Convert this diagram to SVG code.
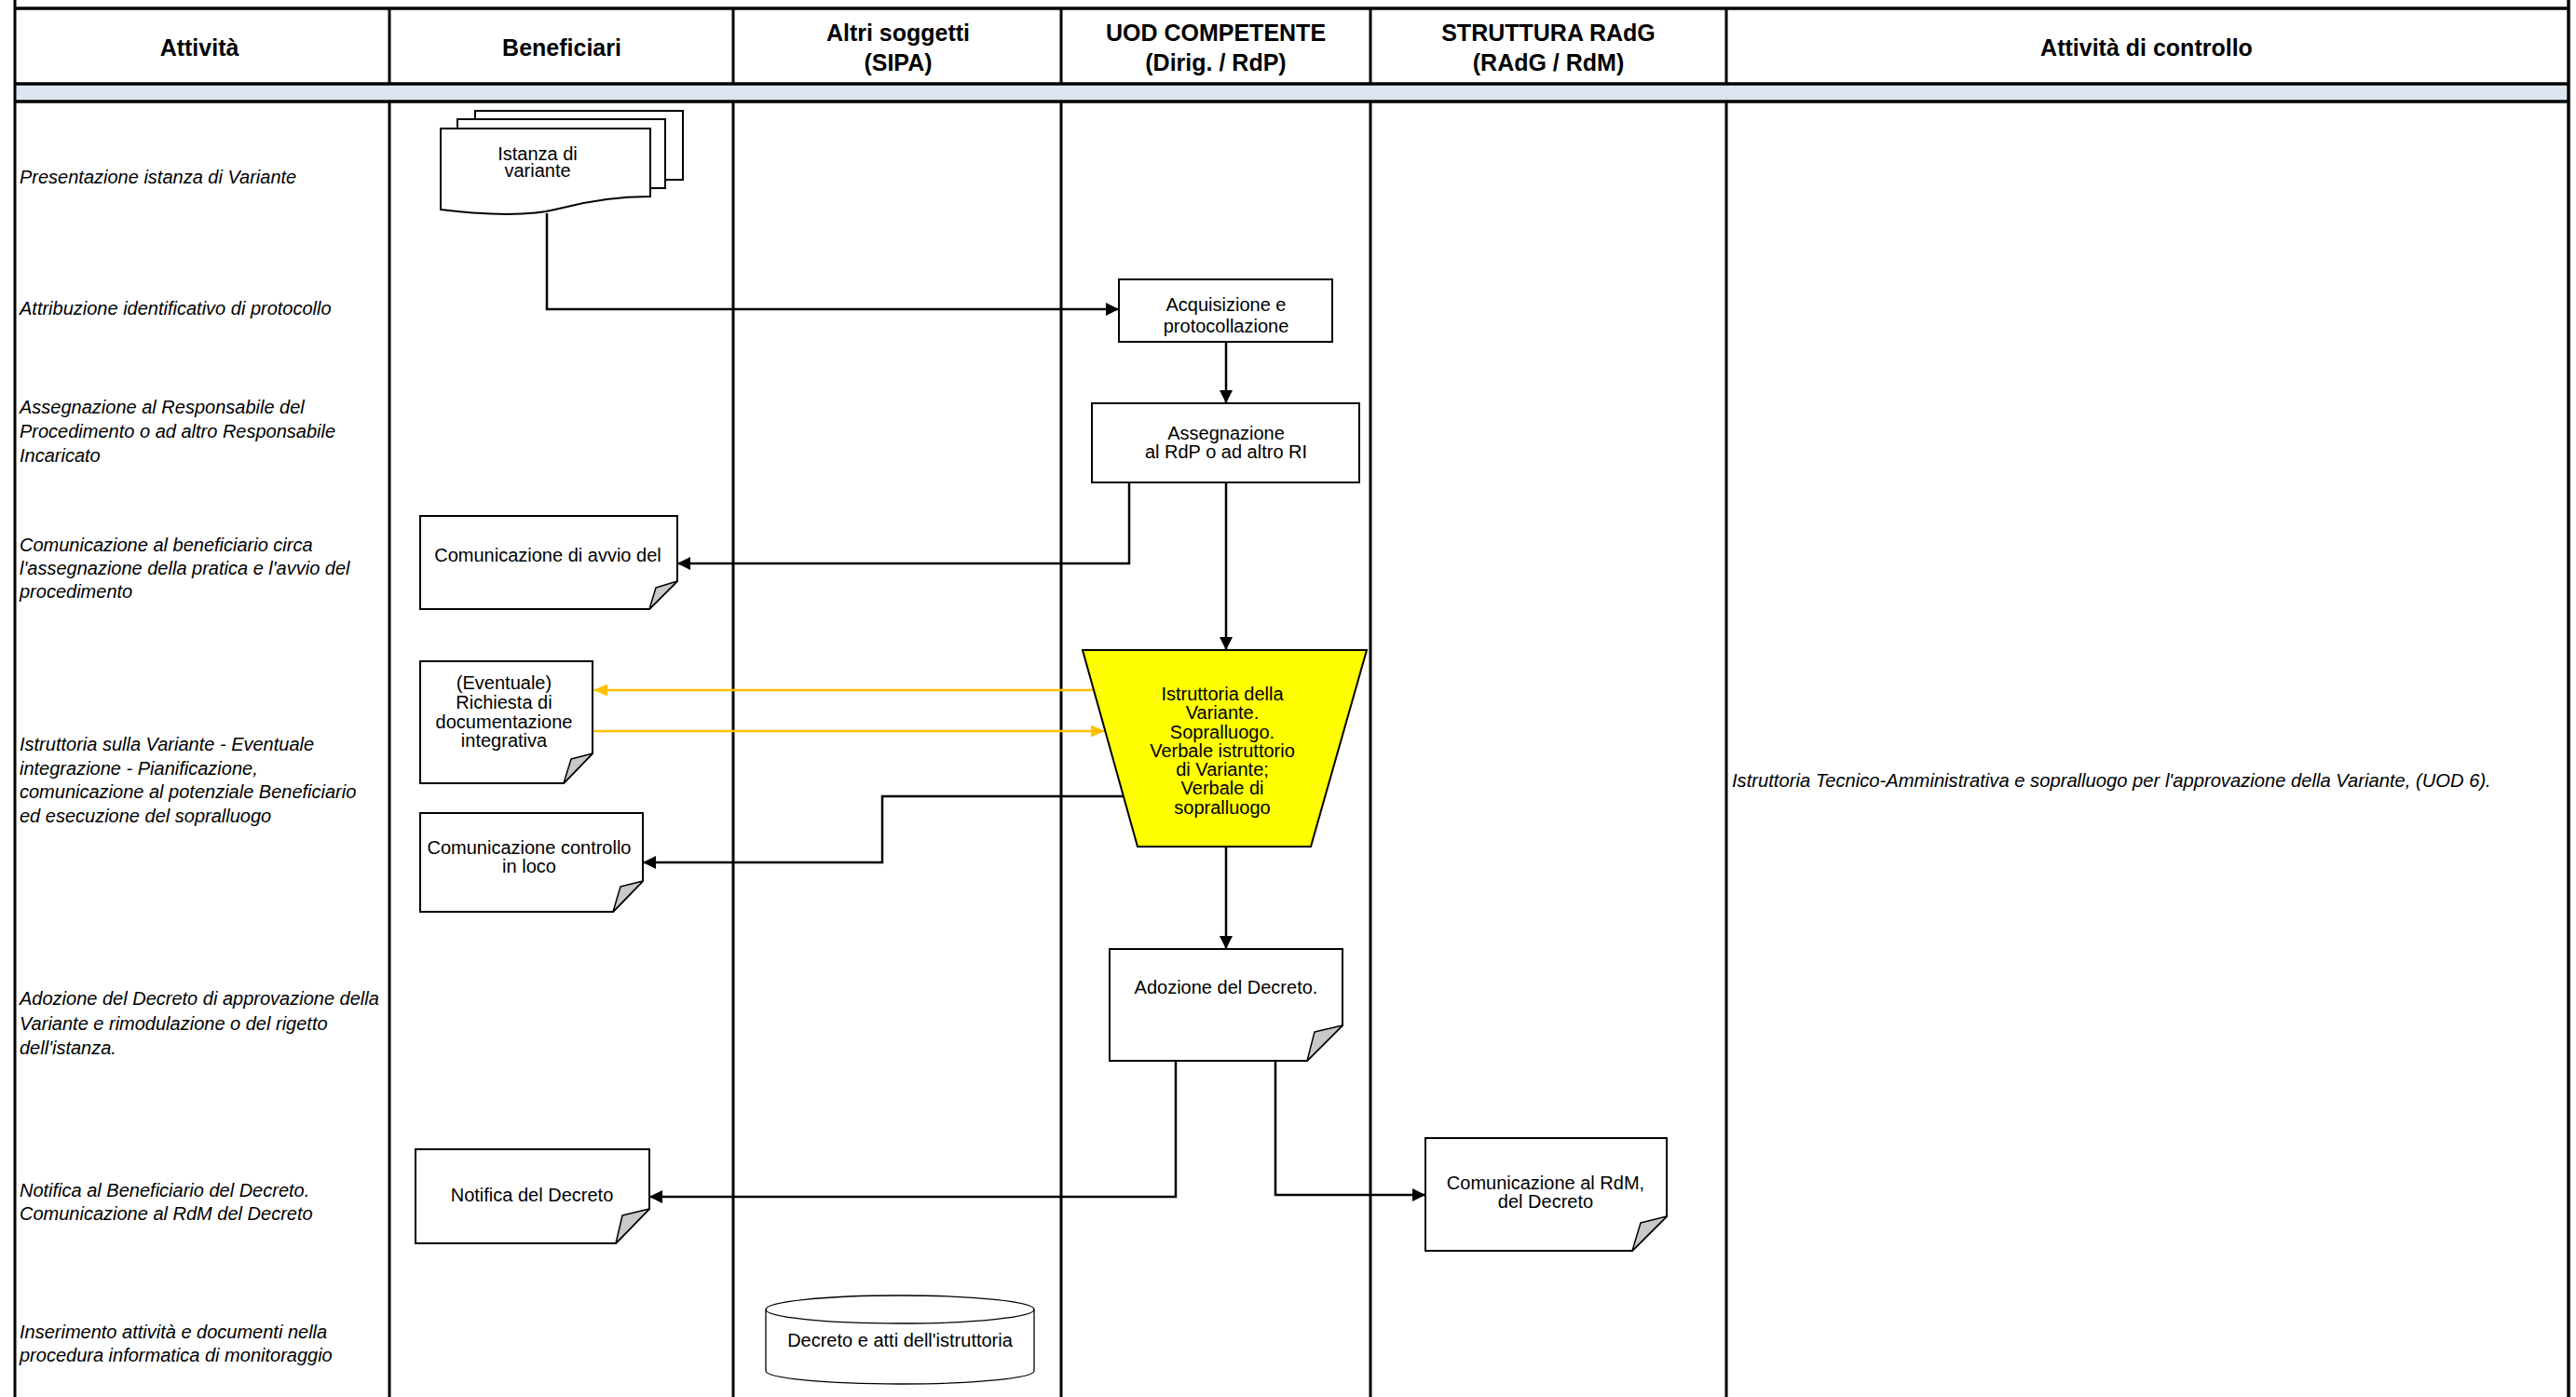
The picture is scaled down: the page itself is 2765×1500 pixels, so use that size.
<svg xmlns="http://www.w3.org/2000/svg" width="2765" height="1500" viewBox="0 0 2765 1500">
<style>
.bd{stroke:#000;stroke-width:3.5;fill:none}
.ln{stroke:#000;stroke-width:3;fill:none}
.hdr{font-family:"Liberation Sans",Arial,sans-serif;font-weight:bold;font-size:25px;text-anchor:middle;fill:#000}
.act{font-family:"Liberation Sans",Arial,sans-serif;font-style:italic;font-size:20px;fill:#000}
.nt{font-family:"Liberation Sans",Arial,sans-serif;font-size:20px;text-anchor:middle;fill:#000}
.sh{fill:#fff;stroke:#000;stroke-width:2}
.fold{fill:#c8c8c8;stroke:#000;stroke-width:1.5;stroke-linejoin:round}
.cn{fill:none;stroke:#000;stroke-width:2.5}
.co{fill:none;stroke:#ffc000;stroke-width:2.5}
</style>
<defs>
<marker id="ab" viewBox="0 0 14 14" refX="14" refY="7" markerWidth="14" markerHeight="14" markerUnits="userSpaceOnUse" orient="auto"><path d="M0,0 L14,7 L0,14 Z" fill="#000"/></marker>
<marker id="ao" viewBox="0 0 15 13" refX="15" refY="6.5" markerWidth="15" markerHeight="13" markerUnits="userSpaceOnUse" orient="auto"><path d="M0,0 L15,6.5 L0,13 Z" fill="#ffc000"/></marker>
</defs>
<rect width="2765" height="1500" fill="#fff"/>
<g id="table">
<rect x="16" y="90" width="2741" height="19" fill="#dce6f1"/>
<line class="bd" x1="16" y1="9" x2="2757" y2="9"/>
<line class="bd" x1="16" y1="90" x2="2757" y2="90"/>
<line class="bd" x1="16" y1="109" x2="2757" y2="109"/>
<line class="ln" x1="16" y1="0" x2="16" y2="1500"/>
<line class="bd" x1="2757" y1="0" x2="2757" y2="1500"/>
<line class="ln" x1="418" y1="9" x2="418" y2="90"/><line class="ln" x1="418" y1="109" x2="418" y2="1500"/>
<line class="ln" x1="787" y1="9" x2="787" y2="90"/><line class="ln" x1="787" y1="109" x2="787" y2="1500"/>
<line class="ln" x1="1139" y1="9" x2="1139" y2="90"/><line class="ln" x1="1139" y1="109" x2="1139" y2="1500"/>
<line class="ln" x1="1471" y1="9" x2="1471" y2="90"/><line class="ln" x1="1471" y1="109" x2="1471" y2="1500"/>
<line class="ln" x1="1853" y1="9" x2="1853" y2="90"/><line class="ln" x1="1853" y1="109" x2="1853" y2="1500"/>
<text class="hdr" x="214" y="60">Attività</text>
<text class="hdr" x="603" y="60">Beneficiari</text>
<text class="hdr" x="964" y="44">Altri soggetti</text>
<text class="hdr" x="964" y="76">(SIPA)</text>
<text class="hdr" x="1305" y="44">UOD COMPETENTE</text>
<text class="hdr" x="1305" y="76">(Dirig. / RdP)</text>
<text class="hdr" x="1662" y="44">STRUTTURA RAdG</text>
<text class="hdr" x="1662" y="76">(RAdG / RdM)</text>
<text class="hdr" x="2304" y="60">Attività di controllo</text>
</g>
<g id="activities">
<text class="act" x="21" y="197">Presentazione istanza di Variante</text>
<text class="act" x="21" y="338">Attribuzione identificativo di protocollo</text>
<text class="act" x="21" y="444">Assegnazione al Responsabile del</text>
<text class="act" x="21" y="470">Procedimento o ad altro Responsabile</text>
<text class="act" x="21" y="496">Incaricato</text>
<text class="act" x="21" y="592">Comunicazione al beneficiario circa</text>
<text class="act" x="21" y="617">l'assegnazione della pratica e l'avvio del</text>
<text class="act" x="21" y="642">procedimento</text>
<text class="act" x="21" y="806">Istruttoria sulla Variante - Eventuale</text>
<text class="act" x="21" y="832">integrazione - Pianificazione,</text>
<text class="act" x="21" y="857">comunicazione al potenziale Beneficiario</text>
<text class="act" x="21" y="883">ed esecuzione del sopralluogo</text>
<text class="act" x="21" y="1079">Adozione del Decreto di approvazione della</text>
<text class="act" x="21" y="1106">Variante e rimodulazione o del rigetto</text>
<text class="act" x="21" y="1132">dell'istanza.</text>
<text class="act" x="21" y="1285">Notifica al Beneficiario del Decreto.</text>
<text class="act" x="21" y="1310">Comunicazione al RdM del Decreto</text>
<text class="act" x="21" y="1437">Inserimento attività e documenti nella</text>
<text class="act" x="21" y="1462">procedura informatica di monitoraggio</text>
<text class="act" x="1859" y="845" style="font-size:20.2px">Istruttoria Tecnico-Amministrativa e sopralluogo per l'approvazione della Variante, (UOD 6).</text>
</g>
<g id="connectors">
<path class="cn" d="M587,229 V332 H1201" marker-end="url(#ab)"/>
<path class="cn" d="M1316,367 V433" marker-end="url(#ab)"/>
<path class="cn" d="M1212,518 V605 H727" marker-end="url(#ab)"/>
<path class="cn" d="M1316,518 V698" marker-end="url(#ab)"/>
<path class="co" d="M1173,741 H637" marker-end="url(#ao)"/>
<path class="co" d="M637,785 H1186" marker-end="url(#ao)"/>
<path class="cn" d="M1205,855 H947 V926 H690" marker-end="url(#ab)"/>
<path class="cn" d="M1316,909 V1019" marker-end="url(#ab)"/>
<path class="cn" d="M1262,1139 V1285 H697" marker-end="url(#ab)"/>
<path class="cn" d="M1369,1139 V1283 H1530" marker-end="url(#ab)"/>
</g>
<g id="n-istanza">
<rect class="sh" x="510" y="119" width="223" height="74"/>
<rect class="sh" x="491" y="128" width="223" height="74"/>
<path class="sh" d="M473,138 H698 V211 C660,211 630,216 600,224 C570,232 530,232 473,225 Z"/>
<text class="nt" x="577" y="172">Istanza di</text>
<text class="nt" x="577" y="190">variante</text>
</g>
<g id="n-acquisizione">
<rect class="sh" x="1201" y="300" width="229" height="67"/>
<text class="nt" x="1316" y="334">Acquisizione e</text>
<text class="nt" x="1316" y="357">protocollazione</text>
</g>
<g id="n-assegnazione">
<rect class="sh" x="1172" y="433" width="287" height="85"/>
<text class="nt" x="1316" y="472">Assegnazione</text>
<text class="nt" x="1316" y="492">al RdP o ad altro RI</text>
</g>
<g id="n-avvio">
<path class="sh" d="M451,554 H727 V624 L697,654 H451 Z"/>
<path class="fold" d="M727,624 L704,631 L697,654 Z"/>
<text class="nt" x="588" y="603">Comunicazione di avvio del</text>
</g>
<g id="n-eventuale">
<path class="sh" d="M451,710 H636 V809 L605,841 H451 Z"/>
<path class="fold" d="M636,809 L613,815 L605,841 Z"/>
<text class="nt" x="541" y="740">(Eventuale)</text>
<text class="nt" x="541" y="761">Richiesta di</text>
<text class="nt" x="541" y="782">documentazione</text>
<text class="nt" x="541" y="802">integrativa</text>
</g>
<g id="n-controllo">
<path class="sh" d="M451,873 H690 V946 L658,979 H451 Z"/>
<path class="fold" d="M690,946 L666,952 L658,979 Z"/>
<text class="nt" x="568" y="917">Comunicazione controllo</text>
<text class="nt" x="568" y="937">in loco</text>
</g>
<g id="n-istruttoria">
<path d="M1162,698 H1467 L1407,909 H1221 Z" fill="#ffff00" stroke="#000" stroke-width="2"/>
<text class="nt" x="1312" y="752">Istruttoria della</text>
<text class="nt" x="1312" y="772">Variante.</text>
<text class="nt" x="1312" y="793">Sopralluogo.</text>
<text class="nt" x="1312" y="813">Verbale istruttorio</text>
<text class="nt" x="1312" y="833">di Variante;</text>
<text class="nt" x="1312" y="853">Verbale di</text>
<text class="nt" x="1312" y="874">sopralluogo</text>
</g>
<g id="n-adozione">
<path class="sh" d="M1191,1019 H1441 V1101 L1403,1139 H1191 Z"/>
<path class="fold" d="M1441,1101 L1411,1108 L1403,1139 Z"/>
<text class="nt" x="1316" y="1067">Adozione del Decreto.</text>
</g>
<g id="n-notifica">
<path class="sh" d="M446,1234 H697 V1298 L661,1335 H446 Z"/>
<path class="fold" d="M697,1298 L668,1305 L661,1335 Z"/>
<text class="nt" x="571" y="1290">Notifica del Decreto</text>
</g>
<g id="n-rdm">
<path class="sh" d="M1530,1222 H1789 V1306 L1752,1343 H1530 Z"/>
<path class="fold" d="M1789,1306 L1761,1313 L1752,1343 Z"/>
<text class="nt" x="1659" y="1277">Comunicazione al RdM,</text>
<text class="nt" x="1659" y="1297">del Decreto</text>
</g>
<g id="n-decreto">
<path d="M822,1406 V1472 A144,14 0 0 0 1110,1472 V1406" fill="#fff" stroke="#000" stroke-width="1.3"/>
<ellipse cx="966" cy="1406" rx="144" ry="15" fill="#fff" stroke="#000" stroke-width="1.3"/>
<text class="nt" x="966" y="1446">Decreto e atti dell'istruttoria</text>
</g>
</svg>
